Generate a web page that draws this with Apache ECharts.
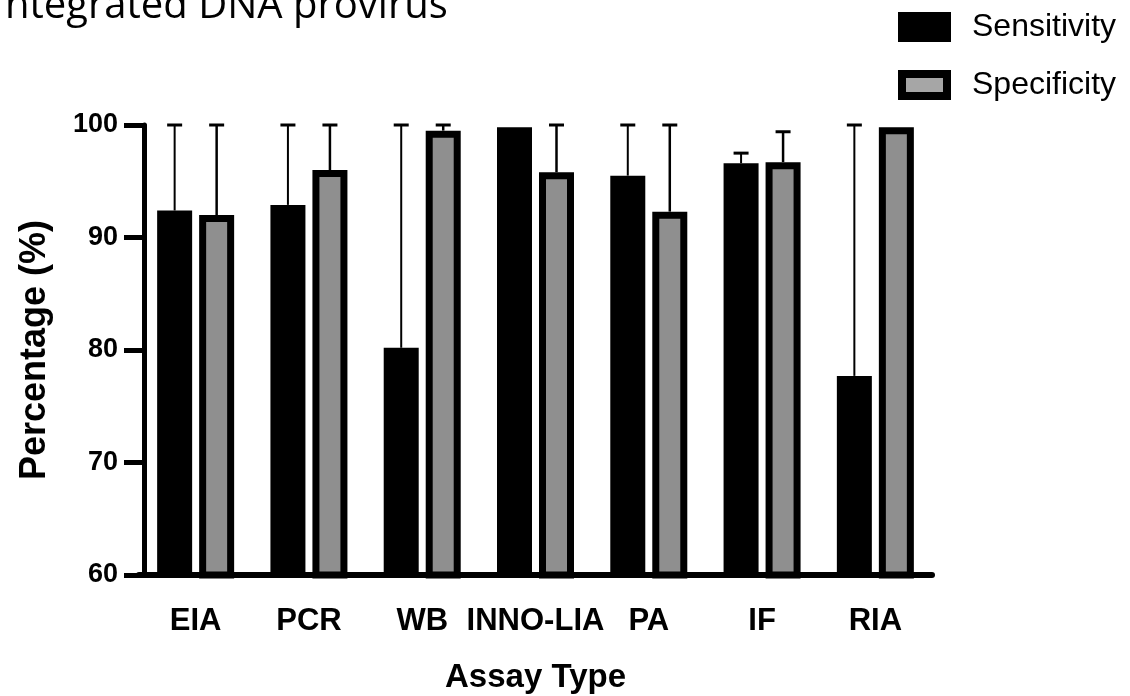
<!DOCTYPE html>
<html>
<head>
<meta charset="utf-8">
<script src="https://cdn.jsdelivr.net/npm/echarts@6/dist/echarts.min.js"></script>
<style>
html, body { margin: 0; padding: 0; background: #fff; }
#myChart { width: 1130px; height: 696px; }
</style>
</head>
<body>
<div id="myChart"></div>
<script>
// categories on the x axis
var assayTypes = ['EIA', 'PCR', 'WB', 'INNO-LIA', 'PA', 'IF', 'RIA'];
// bar heights (%)
var sensitivity = [92.4, 92.9, 80.2, 99.8, 95.5, 96.6, 77.7];
var specificity = [92.0, 96.0, 99.5, 95.8, 92.3, 96.7, 99.8];
// top of the error bars, null where none is drawn
var sensitivityUpper = [100, 100, 100, null, 100, 97.5, 100];
var specificityUpper = [100, 100, 100, 100, 100, 99.4, null];
// y axis ticks
var yTicks = [60, 70, 80, 90, 100];

var font = '"Liberation Sans", Arial, sans-serif';

function errorData(values, upper) {
    var out = [];
    for (var i = 0; i < values.length; i++) {
        if (upper[i] != null) out.push([i, values[i], upper[i]]);
    }
    return out;
}

// draws a whisker with a cap, shifted to sit on top of its bar
function errorBar(offset, lineW) {
    return function (params, api) {
        var top = api.coord([api.value(0), api.value(2)]);
        var base = api.coord([api.value(0), api.value(1)]);
        var x = top[0] + offset;
        return {
            type: 'group',
            children: [
                {type: 'line', shape: {x1: x, y1: base[1], x2: x, y2: top[1]},
                    style: {stroke: '#000', lineWidth: lineW}},
                {type: 'line', shape: {x1: x - 7.5, y1: top[1], x2: x + 7.5, y2: top[1]},
                    style: {stroke: '#000', lineWidth: 3}}
            ]
        };
    };
}

var myChart = echarts.init(document.getElementById('myChart'));
myChart.setOption({
    backgroundColor: '#fff',
    animation: false,
    graphic: [{
        type: 'text',
        left: 5,
        top: -13,
        style: {
            text: 'ntegrated DNA provirus',
            font: '40px "Open Sans", sans-serif',
            fill: '#000'
        }
    }],
    legend: {
        orient: 'vertical',
        left: 893,
        top: 6,
        itemWidth: 45,
        itemHeight: 22,
        itemGap: 26,
        icon: 'rect',
        textStyle: {fontSize: 32, fontFamily: font, color: '#000', padding: [0, 0, 0, 20]},
        data: [
            {name: 'Sensitivity', itemStyle: {color: '#000', borderColor: '#000', borderWidth: 8}},
            {name: 'Specificity', itemStyle: {color: '#a6a6a6', borderColor: '#000', borderWidth: 8}}
        ]
    },
    grid: {left: 139, right: 198, top: 125, bottom: 121, containLabel: false, outerBoundsMode: 'none'},
    xAxis: {
        type: 'category',
        data: assayTypes,
        axisLine: {lineStyle: {color: '#000', width: 6}},
        axisTick: {alignWithLabel: true, length: 20, lineStyle: {color: '#000', width: 5}},
        axisLabel: {fontSize: 31, fontWeight: 'bold', fontFamily: font, color: '#000', margin: 31, interval: 0},
        name: 'Assay Type',
        nameLocation: 'middle',
        nameGap: 86,
        nameTextStyle: {fontSize: 33, fontWeight: 'bold', fontFamily: font, color: '#000'}
    },
    yAxis: {
        type: 'value',
        min: yTicks[0],
        max: yTicks[yTicks.length - 1],
        interval: yTicks[1] - yTicks[0],
        offset: -5,
        axisLine: {show: true, lineStyle: {color: '#000', width: 5}},
        axisTick: {show: true, length: 20, lineStyle: {color: '#000', width: 5}},
        splitLine: {show: false},
        axisLabel: {fontSize: 27, fontWeight: 'bold', fontFamily: font, color: '#000', margin: 26},
        name: 'Percentage (%)',
        nameLocation: 'middle',
        nameGap: 91,
        nameTextStyle: {fontSize: 36, fontWeight: 'bold', fontFamily: font, color: '#000'}
    },
    series: [
        {
            name: 'Sensitivity',
            type: 'bar',
            barWidth: 35,
            barGap: '20%',
            itemStyle: {color: '#000'},
            data: sensitivity
        },
        {
            name: 'Specificity',
            type: 'bar',
            barWidth: 35,
            barGap: '20%',
            itemStyle: {color: '#8f8f8f', borderColor: '#000', borderWidth: 7},
            data: specificity
        },
        {
            name: 'sensErr',
            type: 'custom',
            renderItem: errorBar(-21, 2),
            data: errorData(sensitivity, sensitivityUpper),
            z: 1
        },
        {
            name: 'specErr',
            type: 'custom',
            renderItem: errorBar(21, 2.5),
            data: errorData(specificity, specificityUpper),
            z: 1
        }
    ]
});
</script>
</body>
</html>
